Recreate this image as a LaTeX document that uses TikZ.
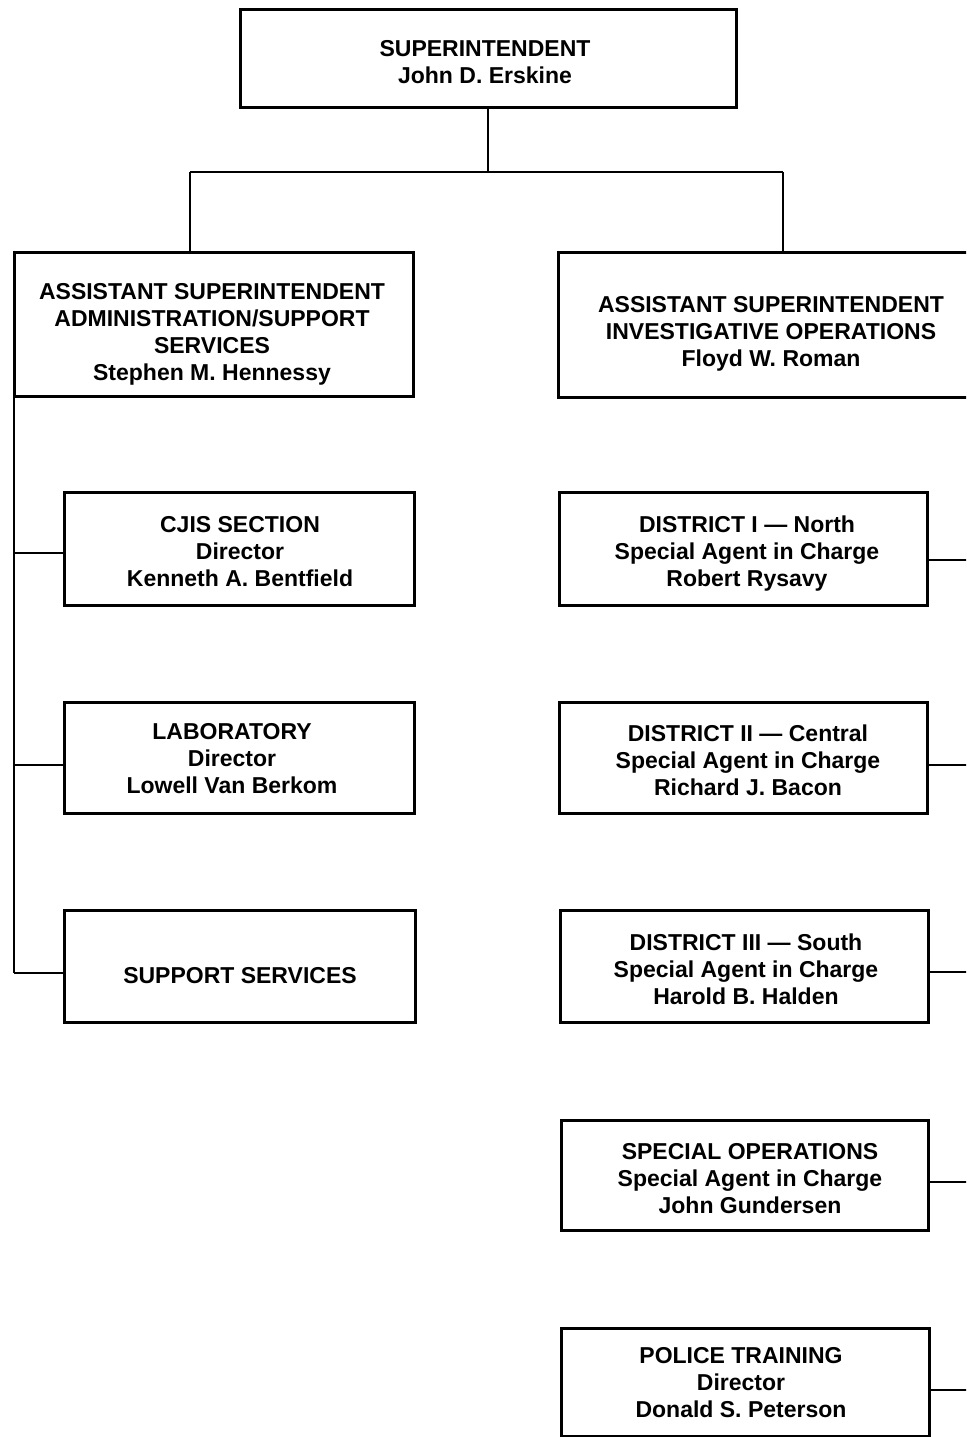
\documentclass[tikz,border=0pt]{standalone}
\usepackage{fontspec}
\setmainfont{Liberation Sans}
\begin{document}
\begin{tikzpicture}[x=0.5pt,y=-0.5pt,
  box/.style={draw=black,line width=1.5pt,fill=white,inner sep=0pt},
  txt/.style={align=center,inner sep=0pt,yshift=-1pt,font=\bfseries\fontsize{11.5}{13.5}\selectfont},
  conn/.style={draw=black,line width=1.1pt}]
\useasboundingbox (0,0) rectangle (966,1437);
\clip (0,0) rectangle (966,1437);
% boxes (positioned by center, sizes in px)
\node[box,minimum width=248pt,minimum height=49pt] (sup) at (488,58) {};
\node[box,minimum width=199.5pt,minimum height=72pt] (adm) at (213.5,324) {};
\node[box,minimum width=212pt,minimum height=72.5pt] (inv) at (770,324.5) {};
\node[box,minimum width=175pt,minimum height=56.5pt] (cjis) at (239,548.5) {};
\node[box,minimum width=175pt,minimum height=55.5pt] (lab) at (239,757.5) {};
\node[box,minimum width=175.5pt,minimum height=56pt] (sup2) at (239.5,966) {};
\node[box,minimum width=184pt,minimum height=56.5pt] (d1) at (743,548.5) {};
\node[box,minimum width=184pt,minimum height=55.5pt] (d2) at (743,757.5) {};
\node[box,minimum width=184pt,minimum height=56pt] (d3) at (744,966) {};
\node[box,minimum width=183.5pt,minimum height=55pt] (so) at (744.5,1175) {};
\node[box,minimum width=184pt,minimum height=54pt] (pt) at (745,1382) {};
% texts
\node[txt] (supT) at (485,60.5) {SUPERINTENDENT\\John D. Erskine};
\node[txt] (admT) at (212,332) {ASSISTANT SUPERINTENDENT\\ADMINISTRATION/SUPPORT\\SERVICES\\Stephen M. Hennessy};
\node[txt] (invT) at (771,332) {ASSISTANT SUPERINTENDENT\\INVESTIGATIVE OPERATIONS\\Floyd W. Roman};
\node[txt] (cjisT) at (240,550) {CJIS SECTION\\Director\\Kenneth A. Bentfield};
\node[txt] (labT) at (232,757) {LABORATORY\\Director\\Lowell Van Berkom};
\node[txt] (sup2T) at (240,974) {SUPPORT SERVICES};
\node[txt] (d1T) at (747,552) {DISTRICT I --- North\\Special Agent in Charge\\Robert Rysavy};
\node[txt] (d2T) at (748,758) {DISTRICT II --- Central\\Special Agent in Charge\\Richard J. Bacon};
\node[txt] (d3T) at (746,967.5) {DISTRICT III --- South\\Special Agent in Charge\\Harold B. Halden};
\node[txt] (soT) at (750,1176.5) {SPECIAL OPERATIONS\\Special Agent in Charge\\John Gundersen};
\node[txt] (ptT) at (741,1381) {POLICE TRAINING\\Director\\Donald S. Peterson};
% top connectors
\coordinate (j) at (488,172);
\coordinate (jl) at (190,172);
\coordinate (jr) at (783,172);
\draw[conn] (sup.south -| j) -- (j);
\draw[conn] (jl) -- (jr);
\draw[conn] (jl) -- (adm.north -| jl);
\draw[conn] (jr) -- (inv.north -| jr);
% left bus
\coordinate (lbt) at (14,252);
\coordinate (lbb) at (14,973);
\draw[conn,line width=1.4pt] (lbt) -- (lbb);
\coordinate (l1) at (14,553);
\coordinate (l2) at (14,765);
\draw[conn] (cjis.west |- l1) -- (l1);
\draw[conn] (lab.west |- l2) -- (l2);
\draw[conn] (sup2.west |- lbb) -- (lbb);
% right connectors (bus off the page)
\coordinate (r1) at (980,560);
\coordinate (r2) at (980,765);
\coordinate (r3) at (980,972);
\coordinate (r4) at (980,1182);
\coordinate (r5) at (980,1390);
\draw[conn] (d1.east |- r1) -- (r1);
\draw[conn] (d2.east |- r2) -- (r2);
\draw[conn] (d3.east |- r3) -- (r3);
\draw[conn] (so.east |- r4) -- (r4);
\draw[conn] (pt.east |- r5) -- (r5);
\end{tikzpicture}
\end{document}
